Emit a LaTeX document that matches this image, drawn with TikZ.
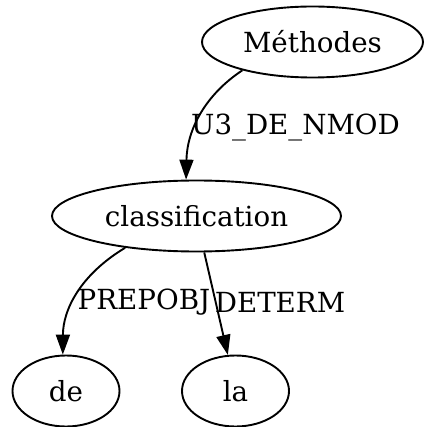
\documentclass[tikz,border=0pt]{standalone}
\usepackage{fontspec}
\setmainfont{DejaVu Serif}
\usetikzlibrary{shapes.geometric,arrows.meta}
\begin{document}
\begin{tikzpicture}[x=1pt,y=-1pt,
  every node/.style={font=\fontsize{27.7}{33}\selectfont},
  gnode/.style={draw,ellipse,line width=1.9pt,inner sep=0pt,minimum height=71pt},
  edge/.style={line width=1.9pt,-{Triangle[length=20pt,width=14pt]}},
  lbl/.style={inner sep=0pt}]
\useasboundingbox (0,0) rectangle (425,427);
\node[gnode,minimum width=221pt] (m) at (312.5,42) {Méthodes};
\node[gnode,minimum width=289pt] (c) at (196.5,216) {classification};
\node[gnode,minimum width=107pt] (de) at (66,391) {de};
\node[gnode,minimum width=107pt] (la) at (235.5,391) {la};
\draw[edge] (m.202) .. controls (205,95) and (187,130) .. (c.106);
\draw[edge] (c.204) .. controls (80,275) and (63,310) .. (de.95);
\draw[edge] (c.-78.5) -- (la.102);
\node[lbl] (l1) at (295.5,127) {U3\_DE\_NMOD};
\node[lbl] (l2) at (144,302) {PREPOBJ};
\node[lbl] (l3) at (280,302) {DETERM};
\end{tikzpicture}
\end{document}
